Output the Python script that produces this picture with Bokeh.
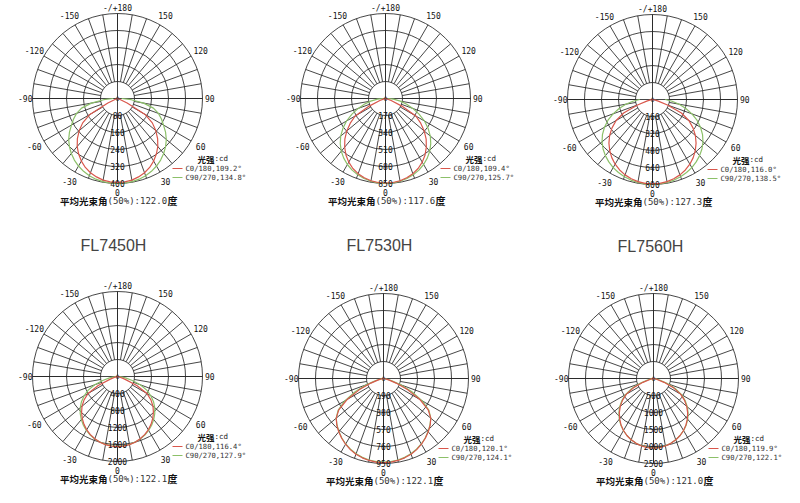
import numpy as np
from bokeh.plotting import figure
from bokeh.layouts import column, row
from bokeh.models import Range1d
from bokeh.core.properties import value
from bokeh.embed import file_html
from bokeh.resources import INLINE

# ---------------- data ----------------
MODELS = ["FL7450H", "FL7530H", "FL7560H"]
ANGLES = [0, 5, 10, 15, 20, 25, 30, 35, 40, 45, 50, 55, 60, 65, 70, 75, 80, 85, 90]
MAX_CD = [400, 850, 800, 2000, 950, 2500]
RING_LABELS = [
    [80, 160, 240, 320, 400],
    [170, 340, 510, 680, 850],
    [160, 320, 480, 640, 800],
    [400, 800, 1200, 1600, 2000],
    [190, 380, 570, 760, 950],
    [500, 1000, 1500, 2000, 2500],
]
C0_VALUES = [
    [395, 394, 390, 382, 372, 358, 340, 319, 295, 267, 235, 200, 150, 50, 10, 0, 0, 0, 0],
    [845, 843, 835, 820, 800, 772, 735, 690, 635, 575, 505, 430, 350, 180, 60, 15, 0, 0, 0],
    [795, 792, 785, 772, 755, 732, 703, 668, 627, 580, 527, 465, 395, 300, 150, 50, 10, 0, 0],
    [1650, 1645, 1628, 1600, 1560, 1510, 1448, 1375, 1290, 1195, 1090, 960, 800, 500, 180, 50, 10, 0, 0],
    [940, 938, 930, 918, 900, 877, 848, 815, 778, 738, 690, 610, 470, 300, 150, 60, 15, 0, 0],
    [2050, 2040, 2015, 1975, 1920, 1850, 1765, 1665, 1550, 1420, 1275, 1110, 920, 650, 330, 110, 30, 0, 0],
]
C90_VALUES = [
    [400, 399, 397, 393, 387, 378, 367, 354, 338, 320, 300, 276, 250, 228, 205, 175, 125, 65, 20],
    [850, 848, 840, 828, 812, 790, 762, 728, 688, 640, 585, 520, 450, 370, 290, 220, 150, 80, 20],
    [800, 798, 793, 785, 773, 758, 740, 717, 690, 658, 620, 575, 522, 462, 395, 325, 255, 185, 120],
    [1640, 1636, 1622, 1598, 1565, 1520, 1465, 1400, 1325, 1240, 1145, 1035, 905, 760, 570, 360, 190, 75, 20],
    [935, 933, 925, 912, 895, 872, 845, 812, 775, 735, 690, 620, 500, 350, 200, 90, 30, 10, 0],
    [2040, 2031, 2008, 1970, 1917, 1850, 1770, 1675, 1565, 1440, 1300, 1140, 960, 720, 440, 200, 70, 20, 0],
]
C0_BEAM = [109.2, 109.4, 116.0, 116.4, 120.1, 119.9]
C90_BEAM = [134.8, 125.7, 138.5, 127.9, 124.1, 122.1]
AVG_BEAM = [122.0, 117.6, 127.3, 122.1, 122.1, 121.0]
ANGLE_TICKS = [180, 150, 120, 90, 60, 30, 0, -30, -60, -90, -120, -150]
ANGLE_TEXT = ["-/+180", "150", "120", "90", "60", "30", "0", "-30", "-60", "-90", "-120", "-150"]

# ---------------- style ----------------
R_PX = 85
GRID = "#262626"
RED = "#d9574c"
GREEN = "#8cc069"
MONO = value("DejaVu Sans Mono")
CJK = value("Noto Sans CJK SC")


def pol(r, deg):
    t = np.radians(deg)
    return r * np.sin(t), -r * np.cos(t)


def make_chart(i, W, H, cx, cy, caption=None, cap_dx=0):
    mx = MAX_CD[i]
    u = mx / R_PX  # data units per pixel
    p = figure(width=W, height=H,
               x_range=Range1d(-cx * u, (W - cx) * u),
               y_range=Range1d(-(H - cy) * u, cy * u),
               x_axis_type=None, y_axis_type=None,
               output_backend="svg", toolbar_location=None,
               min_border=0, outline_line_color=None)
    p.grid.visible = False
    ticks = RING_LABELS[i]

    # rings
    p.circle(x=[0] * len(ticks), y=[0] * len(ticks), radius=ticks,
             fill_color=None, line_color=GRID, line_width=0.85)
    # spokes every 10 deg from first ring to outer ring
    xs, ys = [], []
    for a in range(0, 360, 10):
        x0, y0 = pol(ticks[0], a)
        x1, y1 = pol(ticks[-1], a)
        xs.append([x0, x1]); ys.append([y0, y1])
    # full axes through center
    xs.append([-ticks[-1], ticks[-1]]); ys.append([0, 0])
    xs.append([0, 0]); ys.append([-ticks[-1], ticks[-1]])
    p.multi_line(xs=xs, ys=ys, line_color=GRID, line_width=0.85)

    # curves
    full_ang = [-a for a in ANGLES[:0:-1]] + ANGLES
    for vals, col in ((C90_VALUES[i], GREEN), (C0_VALUES[i], RED)):
        full_v = vals[:0:-1] + vals
        x, y = pol(np.array(full_v, float), np.array(full_ang, float))
        p.line(x=x, y=y, line_color=col, line_width=1.2)

    # angle labels
    lx, ly = [], []
    for a in ANGLE_TICKS:
        if a in (90, -90):
            f = 1.085
        elif a == 180:
            f = 1.06
        elif a == 0:
            f = 1.10
        else:
            f = 1.13
        x, y = pol(mx * f, a)
        lx.append(x); ly.append(y)
    p.text(x=lx, y=ly, text=ANGLE_TEXT, text_font=MONO, text_font_size="8px",
           text_color="#111", text_align="center", text_baseline="middle")

    # radial labels along 0 deg axis
    p.text(x=[0] * len(ticks), y=[-t for t in ticks], text=[str(t) for t in ticks],
           text_font=MONO, text_font_size="8px", text_color="#111",
           text_align="center", text_baseline="middle")
    p.text(x=[0], y=[0], text=["0"], text_font=MONO, text_font_size="6px",
           text_color="#222", text_align="center", text_baseline="middle")

    # legend
    p.text(x=[80 * u], y=[-60 * u], text=["光强"], text_font=CJK, text_font_style="bold",
           text_font_size="8.5px", text_color="#111", text_align="left", text_baseline="middle")
    p.text(x=[97 * u], y=[-60 * u], text=[":cd"], text_font=MONO,
           text_font_size="7.5px", text_color="#222", text_align="left", text_baseline="middle")
    p.segment(x0=[55 * u], y0=[-70 * u], x1=[65 * u], y1=[-70 * u], line_color=RED, line_width=1)
    p.segment(x0=[55 * u], y0=[-79 * u], x1=[65 * u], y1=[-79 * u], line_color=GREEN, line_width=1)
    p.text(x=[68 * u, 68 * u], y=[-70 * u, -79 * u],
           text=["C0/180,%.1f°" % C0_BEAM[i], "C90/270,%.1f°" % C90_BEAM[i]],
           text_font=MONO, text_font_size="7.2px", text_color="#333",
           text_align="left", text_baseline="middle")

    # title
    p.text(x=[-10 * u], y=[-102 * u], text=["平均光束角"], text_font=CJK, text_font_style="bold",
           text_font_size="9.5px", text_color="#111", text_align="right", text_baseline="middle")
    p.text(x=[-10 * u], y=[-102 * u], text=["(50%%):%.1f" % AVG_BEAM[i]], text_font=MONO,
           text_font_size="9px", text_color="#333", text_align="left", text_baseline="middle")
    p.text(x=[50 * u], y=[-102 * u], text=["度"], text_font=CJK, text_font_style="bold",
           text_font_size="10px", text_color="#111", text_align="left", text_baseline="middle")

    if caption:
        p.text(x=[cap_dx * u], y=[-147 * u], text=[caption], text_font=value("Liberation Sans"),
               text_font_size="16px", text_color="#444", text_align="center", text_baseline="middle")
    return p


W = 266
top = [
    make_chart(0, W, 270, 117, 98, MODELS[0], -4),
    make_chart(1, W, 270, 119, 98, MODELS[1], -6),
    make_chart(2, W, 270, 120, 99, MODELS[2], -2),
]
bottom = [
    make_chart(3, W, 231, 117, 106),
    make_chart(4, W, 231, 117, 108),
    make_chart(5, W, 231, 121, 108),
]
layout = column(row(*top, spacing=0), row(*bottom, spacing=0), spacing=0)
open("out.html", "w").write(file_html(layout, INLINE))
